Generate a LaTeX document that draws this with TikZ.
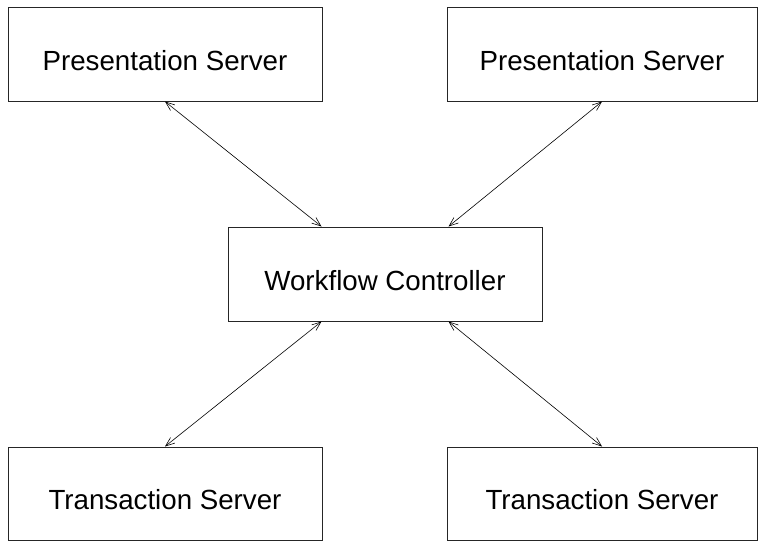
\documentclass[tikz,border=0pt]{standalone}
\usepackage{fontspec}
\setmainfont{Liberation Sans}
\usetikzlibrary{arrows.meta}
\begin{document}
\begin{tikzpicture}[x=1pt,y=-1pt,
  server/.style={draw=black!85,line width=1pt,rectangle,inner sep=0pt,
    minimum height=94pt,text height=32pt,text depth=0pt,
    font=\fontsize{27.7}{32}\selectfont},
  link/.style={line width=0.6pt,
    {Straight Barb[length=9pt,width=7pt,line width=0.6pt]}-{Straight Barb[length=9pt,width=7pt,line width=0.6pt]}}]
\useasboundingbox (0,0) rectangle (758,541);
% servers
\node[server,minimum width=314pt] (ps1) at (165,54) {Presentation Server};
\node[server,minimum width=310pt] (ps2) at (602,54) {Presentation Server};
\node[server,minimum width=314pt] (wc)  at (385,274) {Workflow Controller};
\node[server,minimum width=314pt,minimum height=93pt] (ts1) at (165,493.5) {Transaction Server};
\node[server,minimum width=310pt,minimum height=93pt] (ts2) at (602,493.5) {Transaction Server};
% attachment points on the controller
\coordinate (wcNW) at ([xshift=94pt]wc.north west);
\coordinate (wcNE) at ([xshift=-94pt]wc.north east);
\coordinate (wcSW) at ([xshift=94pt]wc.south west);
\coordinate (wcSE) at ([xshift=-94pt]wc.south east);
% links
\draw[link] (ps1.south) -- (wcNW);
\draw[link] (ps2.south) -- (wcNE);
\draw[link] (ts1.north) -- (wcSW);
\draw[link] (ts2.north) -- (wcSE);
\end{tikzpicture}
\end{document}
